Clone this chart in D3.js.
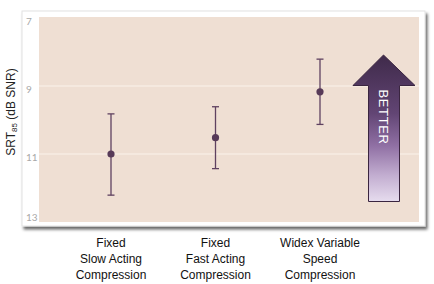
<!DOCTYPE html>
<html><head><meta charset="utf-8">
<script src="https://cdn.jsdelivr.net/npm/d3@7"></script>
<style>html,body{margin:0;padding:0;background:#fff;}svg{display:block;}</style>
</head><body>
<svg id="chart" width="434" height="284"></svg>
<script>
const categories = [["Fixed","Slow Acting","Compression"],["Fixed","Fast Acting","Compression"],["Widex Variable","Speed","Compression"]];
const means = [11.0, 10.52, 9.17];
const upper = [9.82, 9.61, 8.21];
const lower = [12.21, 11.43, 10.13];
const yTicks = [7, 9, 11, 13];

const svg = d3.select("#chart");
const defs = svg.append("defs");
const f = defs.append("filter").attr("id","sh").attr("x","-5%").attr("y","-5%").attr("width","115%").attr("height","115%");
f.append("feDropShadow").attr("dx",2).attr("dy",3).attr("stdDeviation",1.4).attr("flood-color","#000").attr("flood-opacity",0.6);
const g = defs.append("linearGradient").attr("id","ag").attr("x1",0).attr("y1",0).attr("x2",0).attr("y2",1);
g.append("stop").attr("offset","0%").attr("stop-color","#3f2a4a");
g.append("stop").attr("offset","40%").attr("stop-color","#624574");
g.append("stop").attr("offset","62%").attr("stop-color","#9070a4");
g.append("stop").attr("offset","82%").attr("stop-color","#c2add0");
g.append("stop").attr("offset","100%").attr("stop-color","#e6dcee");

// card
svg.append("rect").attr("x",22).attr("y",11).attr("width",403).attr("height",215)
  .attr("fill","#fff").attr("stroke","#e2e2e2").attr("stroke-width",1).attr("filter","url(#sh)");

const x = d3.scalePoint().domain(d3.range(categories.length)).range([111, 320]);
const y = d3.scaleLinear().domain([7, 13]).range([18, 222]);

// plot bg
svg.append("rect").attr("x",39).attr("y",y(7)-1).attr("width",380).attr("height",y(13)-y(7)+1).attr("fill","#efdfd3");

// gridlines
svg.append("g").selectAll("line").data(yTicks.filter(t=>t!==7&&t!==13)).join("line")
  .attr("x1",39).attr("x2",419).attr("y1",d=>y(d)).attr("y2",d=>y(d))
  .attr("stroke","#fbf3ec").attr("stroke-width",1.2);

// tick labels
svg.append("g").selectAll("text").data(yTicks).join("text")
  .attr("x",26).attr("y",d=>y(d)+ (d===7?7:d===13?-1:7))
  .attr("font-family","Lato, 'Open Sans', sans-serif").attr("font-size",10)
  .attr("fill","#a8a8a8").text(d=>d);

// y axis title
const yt = svg.append("text").attr("transform","translate(15,112) rotate(-90)")
  .attr("text-anchor","middle").attr("font-family","'Liberation Sans', Arial, sans-serif")
  .attr("font-size",12).attr("fill","#222");
yt.append("tspan").text("SRT");
yt.append("tspan").attr("font-size",8).attr("dy",2).text("85");
yt.append("tspan").attr("dy",-2).text(" (dB SNR)");

// error bars
const col = "#5f4160";
const eb = svg.append("g");
eb.selectAll("line.v").data(means).join("line").attr("class","v")
  .attr("x1",(d,i)=>x(i)).attr("x2",(d,i)=>x(i)).attr("y1",(d,i)=>y(upper[i])).attr("y2",(d,i)=>y(lower[i]))
  .attr("stroke",col).attr("stroke-width",1.3);
eb.selectAll("line.t").data(upper).join("line").attr("class","t")
  .attr("x1",(d,i)=>x(i)-3.5).attr("x2",(d,i)=>x(i)+3.5).attr("y1",d=>y(d)).attr("y2",d=>y(d))
  .attr("stroke",col).attr("stroke-width",1.3);
eb.selectAll("line.b").data(lower).join("line").attr("class","b")
  .attr("x1",(d,i)=>x(i)-3.5).attr("x2",(d,i)=>x(i)+3.5).attr("y1",d=>y(d)).attr("y2",d=>y(d))
  .attr("stroke",col).attr("stroke-width",1.3);
eb.selectAll("circle").data(means).join("circle")
  .attr("cx",(d,i)=>x(i)).attr("cy",d=>y(d)).attr("r",3.6).attr("fill","#573a58");

// arrow
const ap = d3.path();
ap.moveTo(383.5,55); ap.lineTo(415,85.5); ap.lineTo(399.5,85.5); ap.lineTo(399.5,201.5);
ap.lineTo(368.5,201.5); ap.lineTo(368.5,85.5); ap.lineTo(353,85.5); ap.closePath();
svg.append("path").attr("d",ap.toString()).attr("fill","url(#ag)").attr("stroke","#3a2540").attr("stroke-width",1);
svg.append("text").attr("transform","translate(378.5,117) rotate(90)")
  .attr("text-anchor","middle").attr("font-family","'Liberation Sans', Arial, sans-serif")
  .attr("font-size",13).attr("fill","#fff").attr("letter-spacing",0.6).text("BETTER");

// category labels
const cl = svg.append("g");
categories.forEach((lines,i)=>{
  const t = cl.append("text").attr("text-anchor","middle")
    .attr("font-family","'Liberation Sans', Arial, sans-serif").attr("font-size",12).attr("fill","#111");
  lines.forEach((s,j)=>t.append("tspan").attr("x",x(i)).attr("y",247+16*j).text(s));
});
</script>
</body></html>
